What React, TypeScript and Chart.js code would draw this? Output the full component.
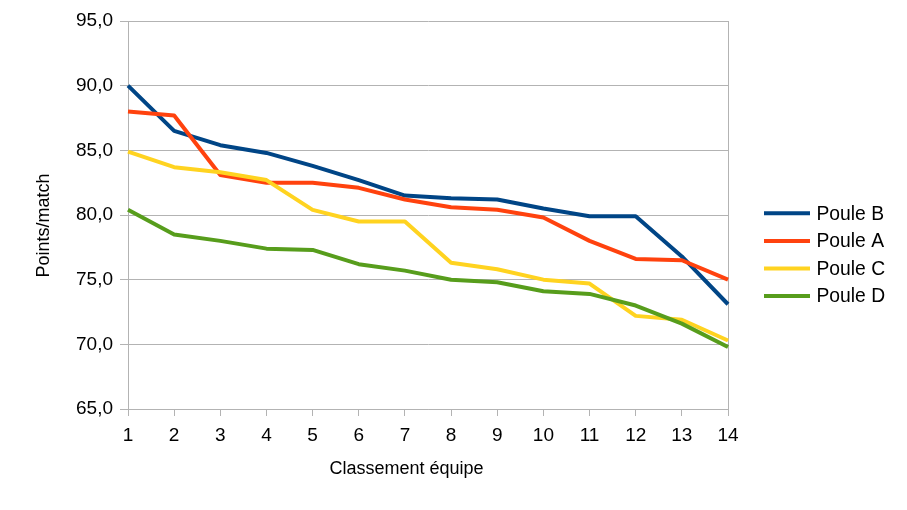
import React, { useEffect, useRef } from "react";
import { Chart, registerables } from "chart.js";

Chart.register(...registerables);

const categories = ["1", "2", "3", "4", "5", "6", "7", "8", "9", "10", "11", "12", "13", "14"];
const pouleB = [90.0, 86.5, 85.4, 84.8, 83.8, 82.7, 81.5, 81.3, 81.2, 80.5, 79.9, 79.9, 76.8, 73.1];
const pouleA = [88.0, 87.7, 83.1, 82.5, 82.5, 82.1, 81.2, 80.6, 80.4, 79.8, 78.0, 76.6, 76.5, 75.0];
const pouleC = [84.9, 83.7, 83.3, 82.7, 80.4, 79.5, 79.5, 76.3, 75.8, 75.0, 74.7, 72.2, 71.9, 70.3];
const pouleD = [80.4, 78.5, 78.0, 77.4, 77.3, 76.2, 75.7, 75.0, 74.8, 74.1, 73.9, 73.0, 71.6, 69.8];
const seriesNames = ["Poule B", "Poule A", "Poule C", "Poule D"];
const seriesColors = ["#004586", "#ff420e", "#ffd320", "#579d1c"];
const yTitle = "Points/match";
const xTitle = "Classement équipe";

const FONT = "'Liberation Sans', Arial, sans-serif";
const GRID = "#b3b3b3";

const overlayPlugin = {
  id: "overlay",
  afterDraw(chart: any) {
    const ctx = chart.ctx as CanvasRenderingContext2D;
    const ds = chart.data.datasets;
    ctx.save();
    // legend
    const startY = 213.3;
    const step = 27.6;
    ctx.font = `19.3px ${FONT}`;
    ctx.textBaseline = "middle";
    ctx.textAlign = "left";
    ds.forEach((d: any, i: number) => {
      const y = startY + i * step;
      ctx.strokeStyle = d.borderColor;
      ctx.lineWidth = 4;
      ctx.lineCap = "butt";
      ctx.beginPath();
      ctx.moveTo(764, y);
      ctx.lineTo(810, y);
      ctx.stroke();
      ctx.fillStyle = "#000";
      ctx.fillText(d.label, 816.5, y + 1);
    });
    // axis titles
    ctx.font = `18px ${FONT}`;
    ctx.textAlign = "center";
    ctx.fillStyle = "#000";
    ctx.fillText(xTitle, 406.5, 469);
    ctx.translate(44.5, 225.5);
    ctx.rotate(-Math.PI / 2);
    ctx.fillText(yTitle, 0, 0);
    ctx.restore();
  },
};

export default function App() {
  const ref = useRef<HTMLCanvasElement | null>(null);
  useEffect(() => {
    if (!ref.current) return;
    const values = [pouleB, pouleA, pouleC, pouleD];
    const chart = new Chart(ref.current, {
      type: "line",
      data: {
        labels: categories,
        datasets: values.map((v, i) => ({
          label: seriesNames[i],
          data: v,
          borderColor: seriesColors[i],
          backgroundColor: seriesColors[i],
          borderWidth: 4,
          pointRadius: 0,
          pointHoverRadius: 0,
          tension: 0,
          borderJoinStyle: "round" as const,
          order: values.length - i,
        })),
      },
      options: {
        responsive: false,
        animation: false,
        events: [],
        layout: { padding: { top: 21, right: 179, left: 0, bottom: 0 } },
        plugins: {
          legend: { display: false },
          tooltip: { enabled: false },
          title: { display: false },
        },
        scales: {
          x: {
            type: "category",
            offset: false,
            grid: {
              display: true,
              drawOnChartArea: true,
              color: (c: any) => (c.index === categories.length - 1 ? GRID : "rgba(0,0,0,0)"),
              tickColor: GRID,
              tickLength: 7,
              lineWidth: 1,
            },
            border: { display: true, color: GRID, width: 1 },
            ticks: {
              color: "#000",
              font: { family: FONT, size: 19 },
              padding: 8,
              maxRotation: 0,
              autoSkip: false,
            },
            afterFit: (s: any) => {
              s.height = 101;
            },
          },
          y: {
            min: 65,
            max: 95,
            grid: { color: GRID, tickColor: GRID, tickLength: 8, lineWidth: 1 },
            border: { display: true, color: GRID, width: 1 },
            ticks: {
              stepSize: 5,
              color: "#000",
              font: { family: FONT, size: 19 },
              padding: 7,
              callback: (v: any) => Number(v).toFixed(1).replace(".", ","),
            },
            afterFit: (s: any) => {
              s.width = 128;
            },
          },
        },
      },
      plugins: [overlayPlugin],
    });
    return () => chart.destroy();
  }, []);
  return (
    <div style={{ position: "fixed", left: 0, top: 0, width: 907, height: 510, background: "#fff" }}>
      <canvas ref={ref} width={907} height={510} style={{ width: 907, height: 510, display: "block" }} />
    </div>
  );
}
